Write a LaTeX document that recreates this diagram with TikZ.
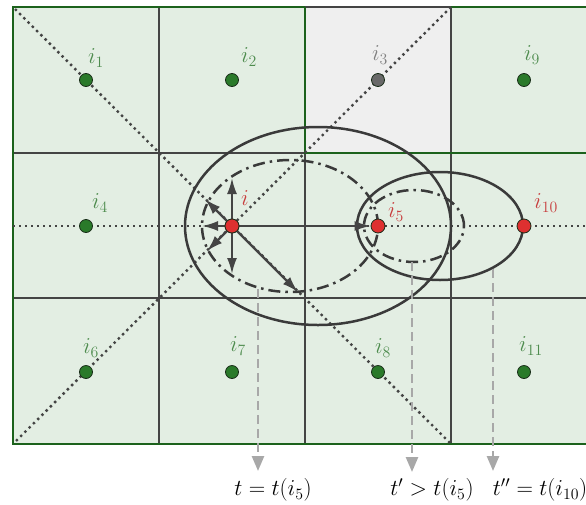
\documentclass[tikz,border=0pt]{standalone}
\usetikzlibrary{arrows.meta}
\definecolor{cellgreen}{RGB}{227,238,227}
\definecolor{cellgray}{RGB}{239,239,239}
\definecolor{bordergreen}{RGB}{28,98,28}
\definecolor{gridgray}{RGB}{68,68,68}
\definecolor{dotgreen}{RGB}{42,122,42}
\definecolor{dotout}{RGB}{25,45,25}
\definecolor{lblgreen}{RGB}{78,140,78}
\definecolor{dotred}{RGB}{222,48,48}
\definecolor{lblred}{RGB}{200,62,62}
\definecolor{dotgrey}{RGB}{105,105,105}
\definecolor{lblgrey}{RGB}{128,128,128}
\definecolor{arrgray}{RGB}{168,168,168}
\definecolor{ellcol}{RGB}{58,58,58}
\begin{document}
\begin{tikzpicture}[x=1pt,y=-1pt,
  gridline/.style={draw=gridgray,line width=1.9pt},
  greenline/.style={draw=bordergreen,line width=2.4pt},
  dotline/.style={draw=gridgray,line width=2.4pt,dash pattern=on 2.4pt off 3.6pt},
  ellsolid/.style={draw=ellcol,line width=2.5pt},
  elldd/.style={draw=ellcol,line width=2.5pt,dash pattern=on 12pt off 5pt on 2.5pt off 5pt},
  ptbase/.style={circle,minimum size=13pt,inner sep=0pt,draw=dotout,line width=0.8pt},
  gpt/.style={ptbase,fill=dotgreen},
  rpt/.style={ptbase,fill=dotred,minimum size=14pt},
  ypt/.style={ptbase,fill=dotgrey},
  lblbase/.style={inner sep=0pt,scale=1.1,font=\fontsize{20.74}{25}\selectfont},
  lblg/.style={lblbase,text=lblgreen},
  lblr/.style={lblbase,text=lblred},
  lbly/.style={lblbase,text=lblgrey},
  lblk/.style={lblbase,text=black},
  iarr/.style={draw=gridgray,line width=2.2pt,-{Latex[length=16pt,width=10pt]}},
  garr/.style={draw=arrgray,line width=2.6pt,dash pattern=on 9pt off 5pt,-{Triangle[length=15pt,width=12pt]}}
]
\useasboundingbox (0,0) rectangle (586,504);
% cells
\fill[cellgreen] (13,7) rectangle (586,444);
\fill[cellgray] (305,7) rectangle (451,153);
% gray grid lines
\draw[gridline] (159,7) -- (159,444);
\draw[gridline] (305,153) -- (305,444);
\draw[gridline] (451,7) -- (451,444);
\draw[gridline] (13,153) -- (305,153);
\draw[gridline] (13,298) -- (586,298);
\draw[gridline] (305,7) -- (451,7);
% green border lines
\draw[greenline] (305,7) -- (13,7) -- (13,444) -- (586,444);
\draw[greenline] (451,7) -- (586,7);
\draw[greenline] (305,7) -- (305,153) -- (586,153);
% dotted guide lines
\coordinate (dA) at (15,9);
\coordinate (dB) at (451,444);
\coordinate (dC) at (451,7);
\coordinate (dD) at (15,442);
\coordinate (dE) at (13,226);
\coordinate (dF) at (586,226);
\draw[dotline] (dA) -- (dB);
\draw[dotline] (dC) -- (dD);
\draw[dotline] (dE) -- (dF);
% ellipses
\draw[ellsolid] (318,226) ellipse [x radius=133pt,y radius=99pt];
\draw[elldd] (290,226) ellipse [x radius=88pt,y radius=66pt];
\draw[ellsolid] (440,226) ellipse [x radius=83pt,y radius=54pt];
\draw[elldd] (414,226) ellipse [x radius=50pt,y radius=36pt];
% points
\node[gpt] (i1) at (86,80) {};
\node[gpt] (i2) at (232,80) {};
\node[ypt] (i3) at (378,80) {};
\node[gpt] (i9) at (524,80) {};
\node[gpt] (i4) at (86,226) {};
\node[rpt] (i) at (232,226) {};
\node[rpt] (i5) at (378,226) {};
\node[rpt] (i10) at (524,226) {};
\node[gpt] (i6) at (86,372) {};
\node[gpt] (i7) at (232,372) {};
\node[gpt] (i8) at (378,372) {};
\node[gpt] (i11) at (524,372) {};
% arrows from i
\coordinate (aU) at (232,178);
\coordinate (aD) at (232,274);
\coordinate (aL) at (202,226);
\coordinate (aUL) at (205,199);
\coordinate (aDL) at (207,251);
\coordinate (aDR) at (298,292);
\draw[iarr] (i) -- (aU);
\draw[iarr] (i) -- (aD);
\draw[iarr] (i) -- (aL);
\draw[iarr] (i) -- (aUL);
\draw[iarr] (i) -- (aDL);
\draw[iarr] (i) -- (aDR);
\draw[iarr] (i) -- (i5);
% re-draw the centre point on top
\node[rpt] at (i) {};
% labels
\node[lblg] (l1) at (96,58) {$i_1$};
\node[lblg] (l2) at (249,57) {$i_2$};
\node[lbly] (l3) at (380,55) {$i_3$};
\node[lblg] (l9) at (532,55) {$i_9$};
\node[lblg] (l4) at (100,203) {$i_4$};
\node[lblr] (li) at (245,198) {$i$};
\node[lblr] (l5) at (396,212) {$i_5$};
\node[lblr] (l10) at (546,203) {$i_{10}$};
\node[lblg] (l6) at (91,348) {$i_6$};
\node[lblg] (l7) at (238,346) {$i_7$};
\node[lblg] (l8) at (383,348) {$i_8$};
\node[lblg] (l11) at (531,346) {$i_{11}$};
% time arrows
\coordinate (s1) at (258,289);
\coordinate (e1) at (258,471);
\coordinate (s2) at (412,262);
\coordinate (e2) at (412,472);
\coordinate (s3) at (493,269);
\coordinate (e3) at (493,471);
\draw[garr] (s1) -- (e1);
\draw[garr] (s2) -- (e2);
\draw[garr] (s3) -- (e3);
\node[lblk] (t1) at (273,490) {$t = t(i_5)$};
\node[lblk] (t2) at (432,490) {$t' > t(i_5)$};
\node[lblk] (t3) at (540,490) {$t'' = t(i_{10})$};
\end{tikzpicture}
\end{document}
